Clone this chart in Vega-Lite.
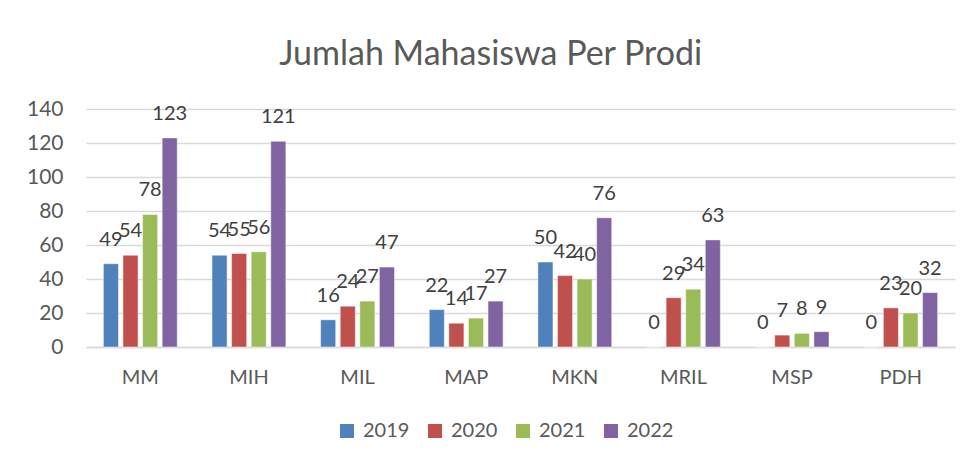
{
  "$schema": "https://vega.github.io/schema/vega-lite/v6.json",
  "autosize": {"type": "none"},
  "width": 869,
  "height": 238,
  "padding": {"left": 86, "top": 109, "right": 20, "bottom": 119},
  "background": "white",
  "title": {
    "text": "Jumlah Mahasiswa Per Prodi",
    "font": "Lato",
    "fontSize": 34,
    "fontWeight": "normal",
    "color": "#595959",
    "frame": "bounds",
    "anchor": "middle",
    "offset": 26
  },
  "data": {
    "values": [
      {"prodi": "MM", "tahun": "2019", "jumlah": 49},
      {"prodi": "MM", "tahun": "2020", "jumlah": 54},
      {"prodi": "MM", "tahun": "2021", "jumlah": 78},
      {"prodi": "MM", "tahun": "2022", "jumlah": 123},
      {"prodi": "MIH", "tahun": "2019", "jumlah": 54},
      {"prodi": "MIH", "tahun": "2020", "jumlah": 55},
      {"prodi": "MIH", "tahun": "2021", "jumlah": 56},
      {"prodi": "MIH", "tahun": "2022", "jumlah": 121},
      {"prodi": "MIL", "tahun": "2019", "jumlah": 16},
      {"prodi": "MIL", "tahun": "2020", "jumlah": 24},
      {"prodi": "MIL", "tahun": "2021", "jumlah": 27},
      {"prodi": "MIL", "tahun": "2022", "jumlah": 47},
      {"prodi": "MAP", "tahun": "2019", "jumlah": 22},
      {"prodi": "MAP", "tahun": "2020", "jumlah": 14},
      {"prodi": "MAP", "tahun": "2021", "jumlah": 17},
      {"prodi": "MAP", "tahun": "2022", "jumlah": 27},
      {"prodi": "MKN", "tahun": "2019", "jumlah": 50},
      {"prodi": "MKN", "tahun": "2020", "jumlah": 42},
      {"prodi": "MKN", "tahun": "2021", "jumlah": 40},
      {"prodi": "MKN", "tahun": "2022", "jumlah": 76},
      {"prodi": "MRIL", "tahun": "2019", "jumlah": 0},
      {"prodi": "MRIL", "tahun": "2020", "jumlah": 29},
      {"prodi": "MRIL", "tahun": "2021", "jumlah": 34},
      {"prodi": "MRIL", "tahun": "2022", "jumlah": 63},
      {"prodi": "MSP", "tahun": "2019", "jumlah": 0},
      {"prodi": "MSP", "tahun": "2020", "jumlah": 7},
      {"prodi": "MSP", "tahun": "2021", "jumlah": 8},
      {"prodi": "MSP", "tahun": "2022", "jumlah": 9},
      {"prodi": "PDH", "tahun": "2019", "jumlah": 0},
      {"prodi": "PDH", "tahun": "2020", "jumlah": 23},
      {"prodi": "PDH", "tahun": "2021", "jumlah": 20},
      {"prodi": "PDH", "tahun": "2022", "jumlah": 32}
    ]
  },
  "encoding": {
    "x": {
      "field": "prodi",
      "type": "nominal",
      "sort": null,
      "title": null,
      "scale": {"paddingInner": 0.32, "paddingOuter": 0.16},
      "axis": {
        "labelAngle": 0,
        "labelFont": "Lato",
        "labelFontSize": 20,
        "labelColor": "#595959",
        "labelPadding": 20,
        "ticks": false,
        "domainColor": "#d9d9d9",
        "domainWidth": 1.5
      }
    },
    "xOffset": {
      "field": "tahun",
      "type": "nominal",
      "scale": {"paddingInner": 0.23, "paddingOuter": 0}
    },
    "y": {
      "field": "jumlah",
      "type": "quantitative",
      "title": null,
      "scale": {"domain": [0, 140], "nice": false},
      "axis": {
        "values": [0, 20, 40, 60, 80, 100, 120, 140],
        "labelFont": "Lato",
        "labelFontSize": 21,
        "labelColor": "#595959",
        "labelPadding": 23,
        "ticks": false,
        "domain": false,
        "gridColor": "#d9d9d9",
        "gridWidth": 1.5
      }
    }
  },
  "layer": [
    {
      "mark": {"type": "bar", "stroke": "white", "strokeWidth": 0.8, "strokeOpacity": 0.6},
      "encoding": {
        "color": {
          "field": "tahun",
          "type": "nominal",
          "title": null,
          "scale": {
            "domain": ["2019", "2020", "2021", "2022"],
            "range": ["#4F81BD", "#C0504D", "#9BBB59", "#8064A2"]
          },
          "legend": {
            "orient": "none",
            "direction": "horizontal",
            "legendX": 251,
            "legendY": 312,
            "symbolType": "square",
            "symbolSize": 196,
            "symbolStrokeWidth": 0,
            "labelFont": "Lato",
            "labelFontSize": 20,
            "labelColor": "#595959",
            "labelOffset": 6,
            "columnPadding": 15
          }
        }
      }
    },
    {
      "mark": {
        "type": "text",
        "font": "Lato",
        "fontSize": 20,
        "color": "#404040",
        "baseline": "middle",
        "dy": -24
      },
      "encoding": {
        "text": {"field": "jumlah", "type": "quantitative"}
      }
    }
  ],
  "config": {"view": {"stroke": null}}
}
